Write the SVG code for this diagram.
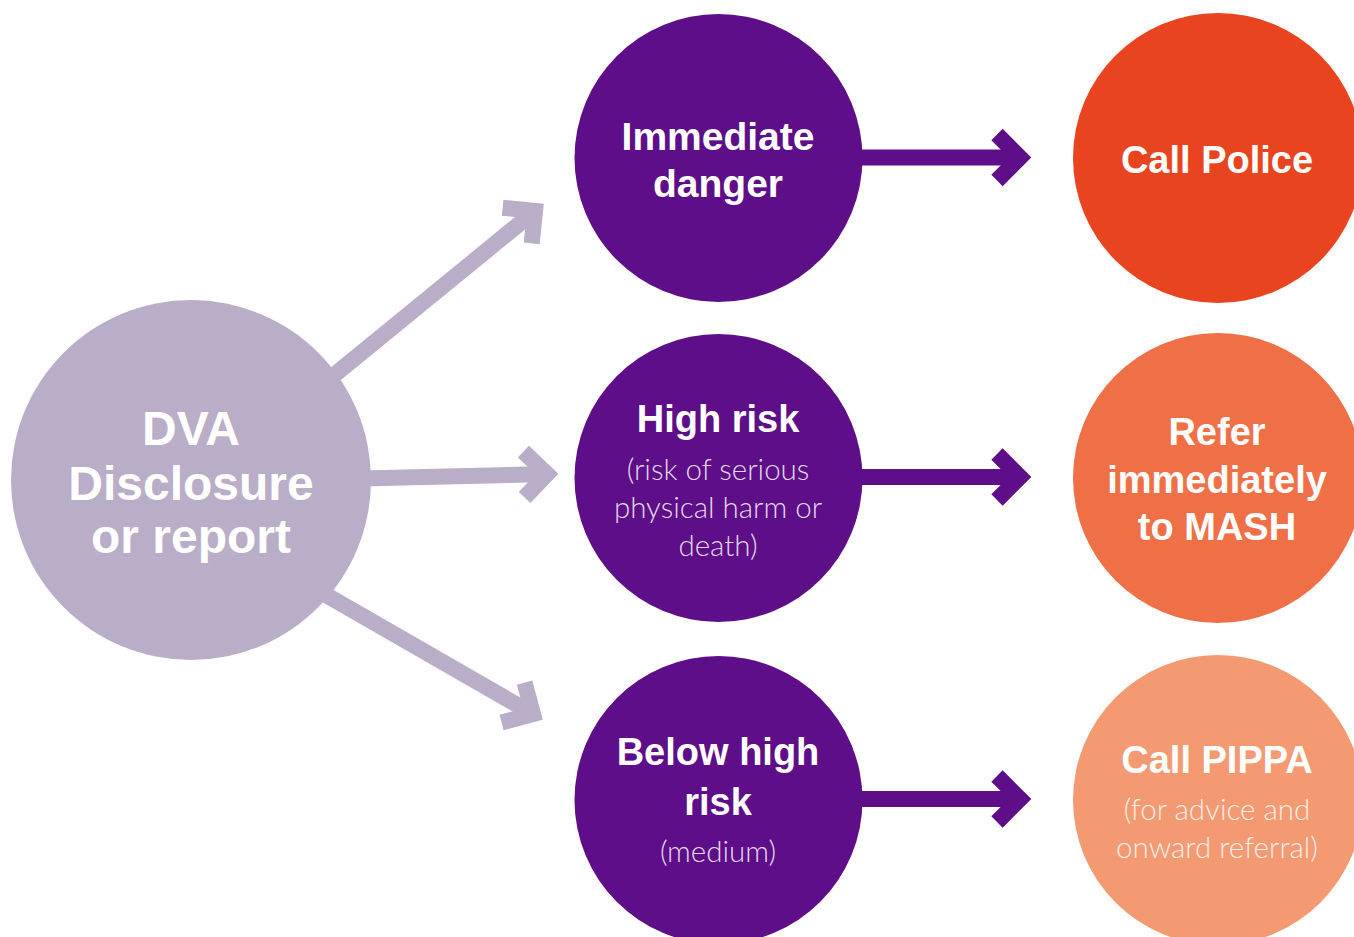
<svg xmlns="http://www.w3.org/2000/svg" xmlns:xlink="http://www.w3.org/1999/xlink" width="1354" height="937" viewBox="0 0 1354 937">
<style>
.b{font-family:"Liberation Sans",Arial,Helvetica,sans-serif;font-weight:bold;fill:#fff;text-anchor:middle}
.l{font-family:Lato,Roboto,"Liberation Sans",Arial,sans-serif;font-weight:300;fill:#fff;fill-opacity:0.85;text-anchor:middle;font-size:29.5px}
.lav{stroke:#b9adc8;fill:none;stroke-width:16;stroke-linejoin:miter;stroke-miterlimit:10}
.pur{stroke:#5d0e88;fill:none;stroke-width:16;stroke-linejoin:miter;stroke-miterlimit:10}
</style>
<defs>
<path id="chev" d="M-23,-23 L0,0 L-23,23"/>
</defs>
<rect width="1354" height="937" fill="#fff"/>
<g id="connectors">
<g class="lav">
<line x1="300" y1="403" x2="535" y2="211"/>
<use xlink:href="#chev" transform="translate(535,211) rotate(-39.2)"/>
<line x1="340" y1="479" x2="547" y2="474"/>
<use xlink:href="#chev" transform="translate(547,474) rotate(-1.5)"/>
<line x1="300" y1="580" x2="533" y2="714"/>
<use xlink:href="#chev" transform="translate(533,714) rotate(30)"/>
</g>
<g class="pur">
<line x1="800" y1="157.5" x2="1020" y2="157.5"/>
<use xlink:href="#chev" transform="translate(1020,157.5)"/>
<line x1="800" y1="477" x2="1020" y2="477"/>
<use xlink:href="#chev" transform="translate(1020,477)"/>
<line x1="800" y1="799" x2="1020" y2="799"/>
<use xlink:href="#chev" transform="translate(1020,799)"/>
</g>
</g>
<g id="dva">
<circle cx="191" cy="480" r="180" fill="#b9adc8"/>
<text class="b" font-size="48" x="191" y="445">DVA</text>
<text class="b" font-size="48" x="191" y="500">Disclosure</text>
<text class="b" font-size="48" x="191" y="553">or report</text>
</g>
<g id="immediate">
<circle cx="718.5" cy="158" r="144" fill="#5d0e88"/>
<text class="b" font-size="39" x="718" y="150">Immediate</text>
<text class="b" font-size="39" x="718" y="197">danger</text>
</g>
<g id="highrisk">
<circle cx="718.5" cy="478" r="144" fill="#5d0e88"/>
<text class="b" font-size="38" x="718" y="432">High risk</text>
<text class="l" x="718" y="480">(risk of serious</text>
<text class="l" x="718" y="518">physical harm or</text>
<text class="l" x="718" y="556">death)</text>
</g>
<g id="belowhigh">
<circle cx="718.5" cy="800" r="144" fill="#5d0e88"/>
<text class="b" font-size="38" x="718" y="765">Below high</text>
<text class="b" font-size="38" x="718" y="815">risk</text>
<text class="l" x="718" y="862">(medium)</text>
</g>
<g id="police">
<circle cx="1218" cy="158" r="145" fill="#e8441f"/>
<text class="b" font-size="38" x="1217" y="173">Call Police</text>
</g>
<g id="mash">
<circle cx="1218" cy="478" r="145" fill="#ef7047"/>
<text class="b" font-size="38" x="1217" y="445">Refer</text>
<text class="b" font-size="38" x="1217" y="493">immediately</text>
<text class="b" font-size="38" x="1217" y="540">to MASH</text>
</g>
<g id="pippa">
<circle cx="1218" cy="800" r="145" fill="#f39a73"/>
<text class="b" font-size="38" x="1217" y="773">Call PIPPA</text>
<text class="l" x="1217" y="820">(for advice and</text>
<text class="l" x="1217" y="858">onward referral)</text>
</g>
</svg>
